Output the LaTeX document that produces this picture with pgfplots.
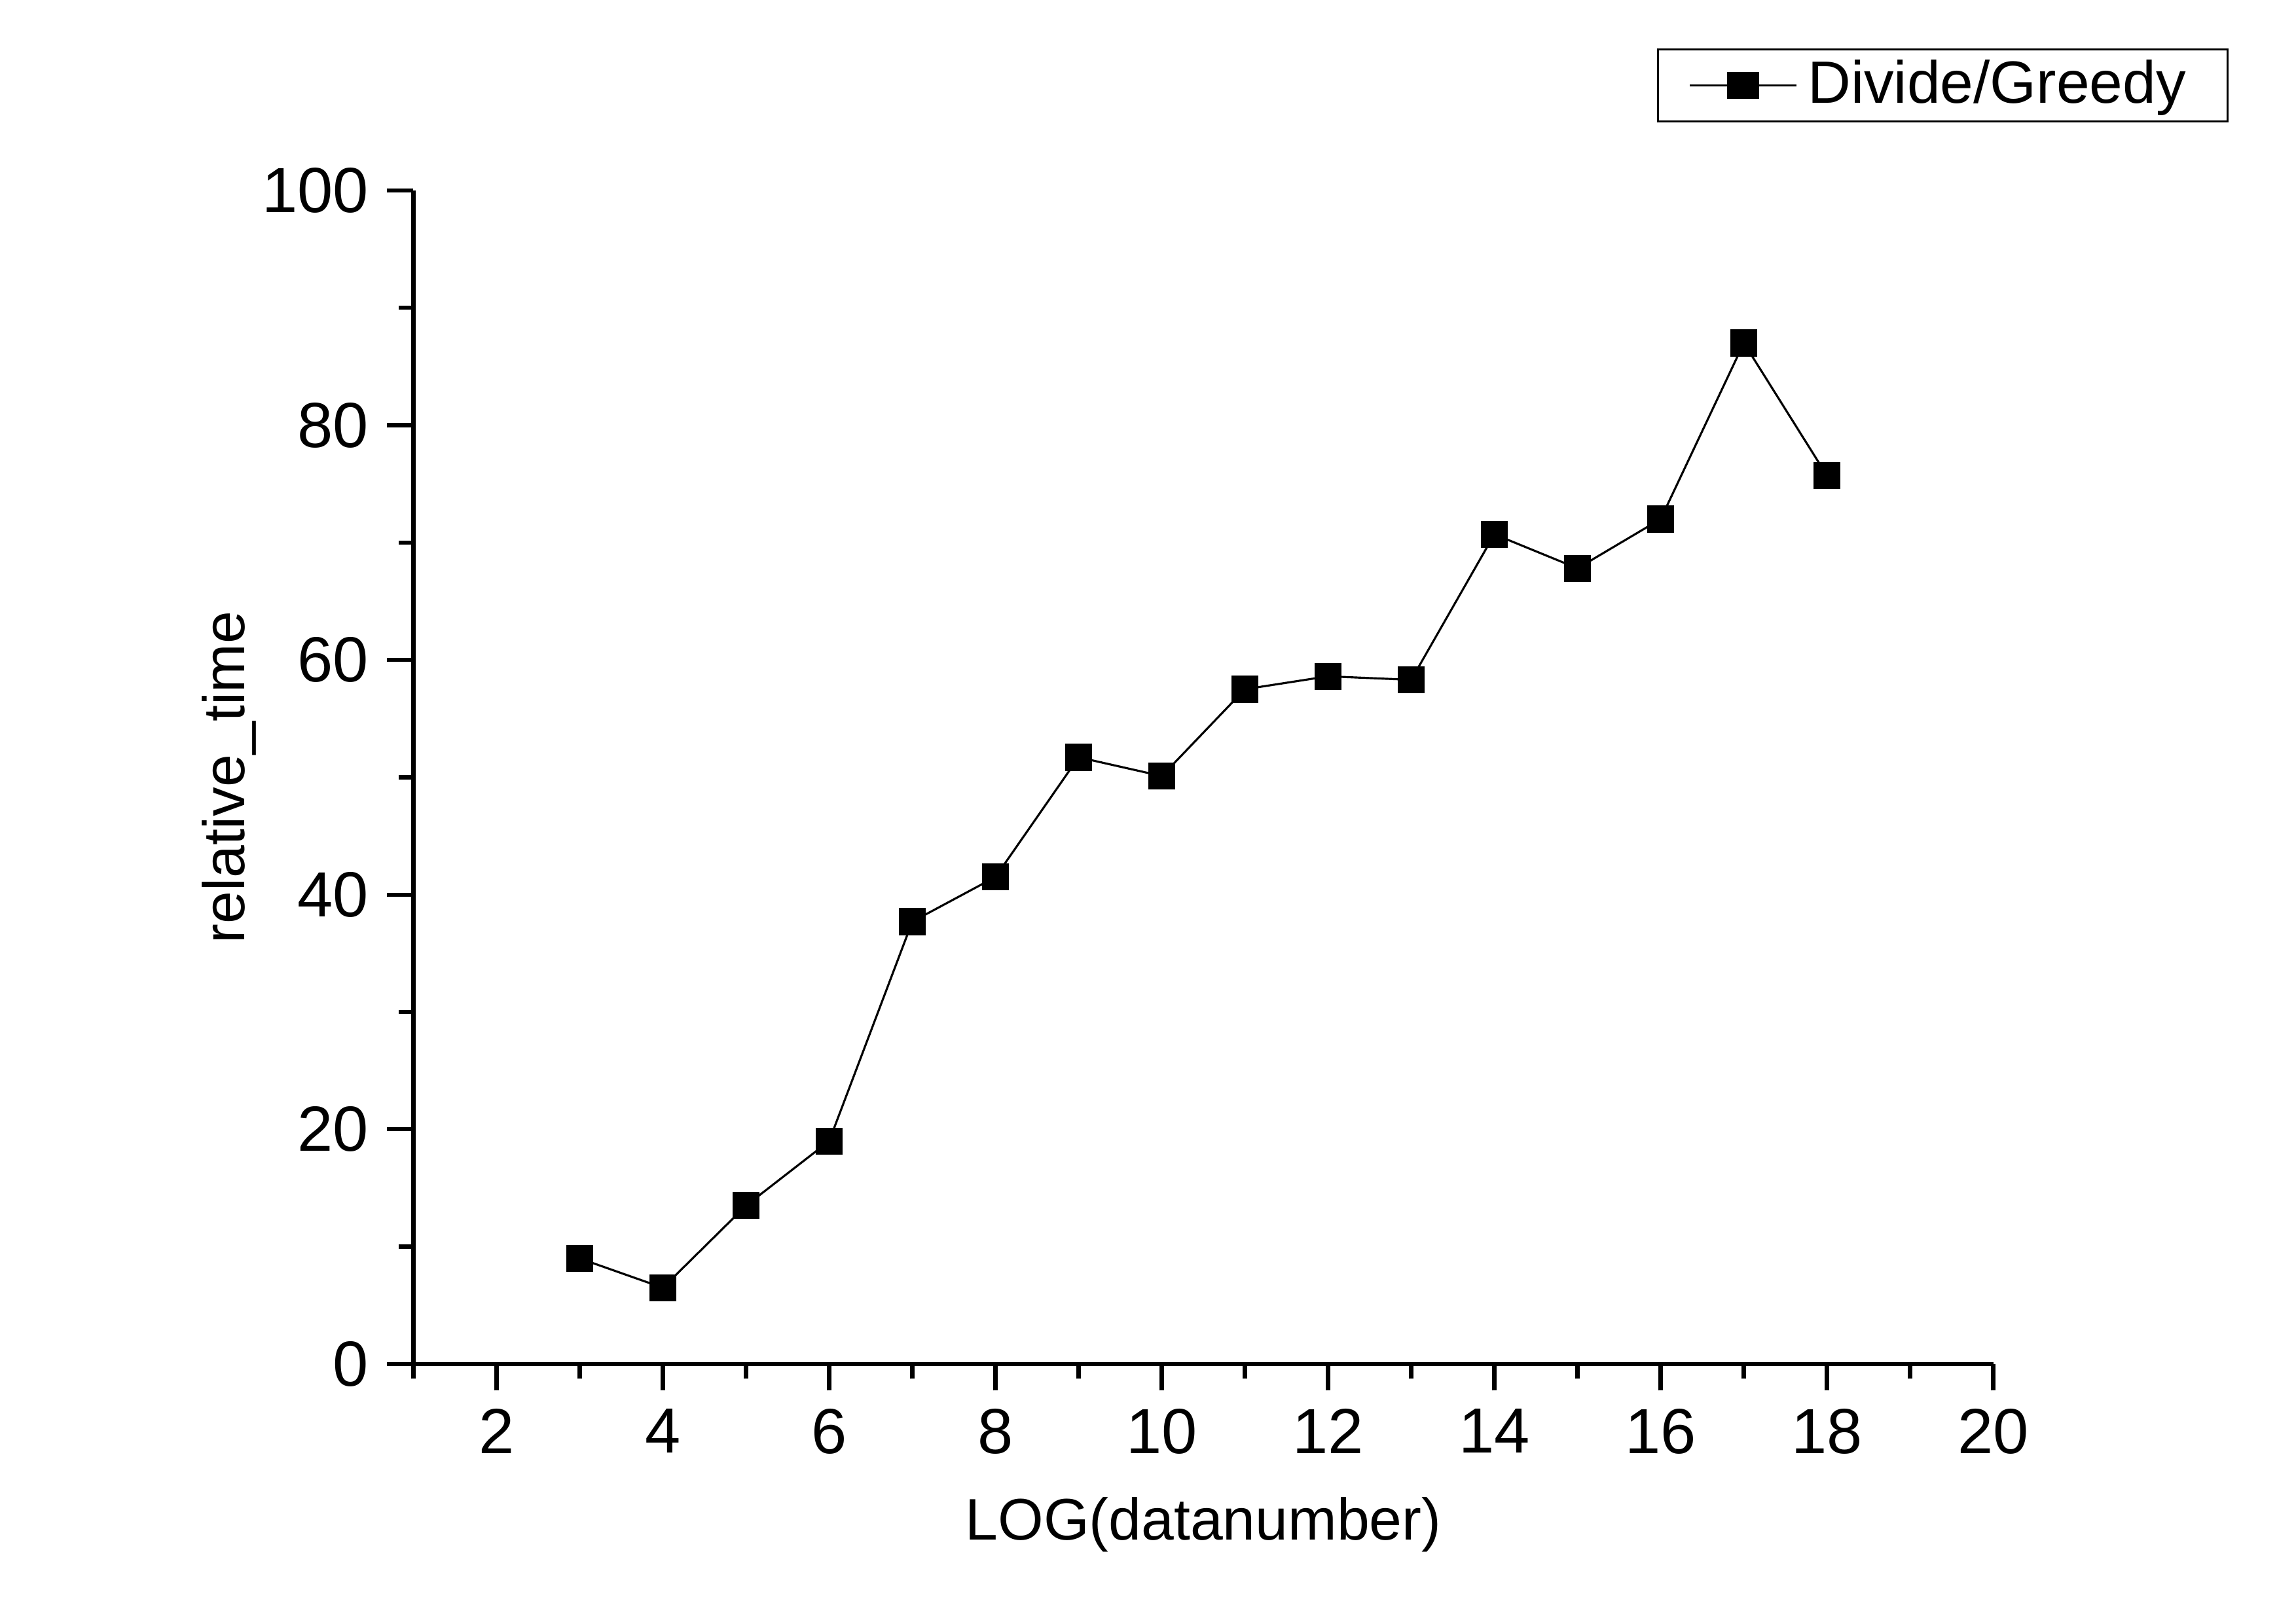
\documentclass[border=0pt]{standalone}
\usepackage{pgfplots}
\pgfplotsset{compat=1.18}
\usepackage{fontspec}
\setmainfont{Liberation Sans}
\begin{document}
\begin{tikzpicture}
\useasboundingbox (-2.80cm,-1.76cm) rectangle (12.75cm,9.24cm);
\begin{axis}[
  at={(0,0)}, anchor=origin,
  scale only axis, width=10.7cm, height=7.95cm,
  xmin=1, xmax=20, ymin=0, ymax=100,
  axis lines=left, axis line style={-, line width=0.8pt},
  xtick={2,4,...,20}, ytick={0,20,...,100},
  minor xtick={1,3,...,19}, minor ytick={10,30,...,90},
  tick align=outside, tick style={black, line width=0.8pt},
  major tick length=0.18cm, minor tick length=0.1cm,
  xtick pos=left, ytick pos=left,
  /pgf/number format/assume math mode=true,
  tick label style={font=\fontsize{12.3}{14}\selectfont},
  xlabel={LOG(datanumber)}, ylabel={relative\_time},
  label style={font=\fontsize{11.3}{13}\selectfont},
  xlabel style={yshift=-0.05cm},
  ylabel style={yshift=-0.2cm},
  legend style={at={(rel axis cs:0.787,1.121)}, anchor=north west,
    draw=black, font=\fontsize{11.5}{13}\selectfont,
    inner xsep=6pt, inner ysep=0pt},
  legend image post style={xscale=1.2},
  legend cell align=left,
]
\addplot[black, thin, mark=square*, mark size=2.4pt] coordinates {
(3,9) (4,6.5) (5,13.5) (6,19) (7,37.7) (8,41.5) (9,51.7) (10,50.1)
(11,57.5) (12,58.6) (13,58.3) (14,70.7) (15,67.8) (16,72) (17,87) (18,75.7)};
\addlegendentry{Divide/Greedy}
\end{axis}
\end{tikzpicture}
\end{document}
